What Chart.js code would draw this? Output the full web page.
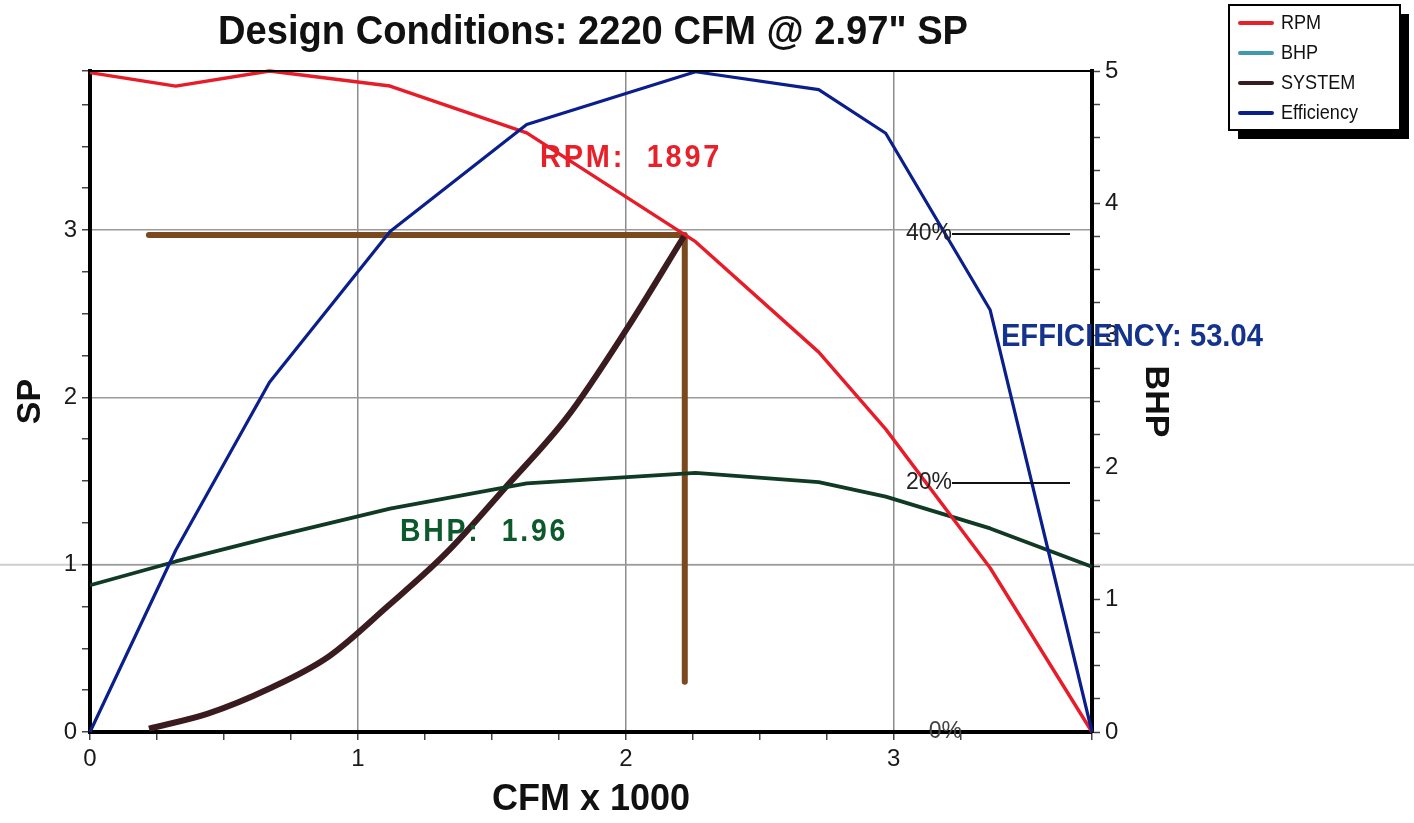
<!DOCTYPE html>
<html><head><meta charset="utf-8">
<script src="https://cdn.jsdelivr.net/npm/chart.js@4.4.1/dist/chart.umd.min.js"></script>
<style>html,body{margin:0;padding:0;background:#fff;}</style>
</head><body>
<canvas id="c" width="1414" height="823"></canvas>
<script>
// ---- text ----
const chartTitle = 'Design Conditions: 2220 CFM @ 2.97" SP';
const xTitle = 'CFM x 1000';
const spTitle = 'SP';
const bhpTitle = 'BHP';
// ---- fan curve data (CFM x 1000) ----
const fanCfm  = [0, 0.32, 0.67, 1.12, 1.63, 2.26, 2.72, 2.97, 3.36, 3.74];
const rpmSp   = [3.94, 3.86, 3.95, 3.86, 3.58, 2.93, 2.27, 1.81, 0.98, 0];
const bhpVals = [1.11, 1.29, 1.47, 1.69, 1.88, 1.96, 1.89, 1.78, 1.54, 1.25];
const effVals = [0, 14.6, 28.1, 40.2, 48.8, 53.04, 51.6, 48.1, 33.9, 0];
// ---- system curve ----
const sysCfm = [0.22, 0.44, 0.67, 0.89, 1.11, 1.33, 1.55, 1.78, 2.00, 2.22];
const sysSp  = [0.02, 0.11, 0.26, 0.45, 0.75, 1.07, 1.46, 1.88, 2.40, 2.97];
// ---- design point guide lines ----
const designCfm = [0.22, 2.22, 2.22];
const designSp  = [2.97, 2.97, 0.30];
// ---- ticks ----
const xTicks   = [0, 1, 2, 3];
const spTicks  = [0, 1, 2, 3];
const bhpTicks = [0, 1, 2, 3, 4, 5];
const effMarks = [0, 20, 40];
// ---- legend / labels ----
const legendNames  = ['RPM', 'BHP', 'SYSTEM', 'Efficiency'];
const legendColors = ['#e8202a', '#3f9aab', '#3a1c20', '#0b1f8c'];
const opRpm = '1897', opBhp = '1.96', opEff = '53.04';

const FONT = '"Liberation Sans", Arial, sans-serif';

function pts(xs, ys){ return xs.map((x,i)=>({x:x, y:ys[i]})); }

function fitText(ctx, text, x, y, width, align){
  const w = ctx.measureText(text).width;
  const s = width ? width / w : 1;
  ctx.save();
  ctx.translate(x, y);
  ctx.scale(s, 1);
  ctx.textAlign = 'left';
  ctx.fillText(text, align === 'center' ? -w/2 : (align === 'right' ? -w : 0), 0);
  ctx.restore();
}

const decor = {
  id: 'decor',
  beforeDraw(chart){
    const ctx = chart.ctx;
    ctx.save();
    ctx.fillStyle = '#fff';
    ctx.fillRect(0, 0, chart.width, chart.height);
    // faint scan line across full width at SP = 1
    const y1 = chart.scales.y.getPixelForValue(1);
    ctx.strokeStyle = '#cfcfcf'; ctx.lineWidth = 2;
    ctx.beginPath(); ctx.moveTo(0, y1); ctx.lineTo(chart.width, y1); ctx.stroke();
    ctx.restore();
  },
  afterDraw(chart){
    const ctx = chart.ctx, a = chart.chartArea;
    const xs = chart.scales.x, ys = chart.scales.y, ye = chart.scales.yE;
    ctx.save();
    // top border
    ctx.strokeStyle = '#000'; ctx.lineWidth = 2;
    ctx.beginPath(); ctx.moveTo(a.left, a.top); ctx.lineTo(a.right, a.top); ctx.stroke();
    // title
    ctx.fillStyle = '#111';
    ctx.font = 'bold 40px ' + FONT;
    ctx.textBaseline = 'alphabetic';
    fitText(ctx, chartTitle, 593, 44, 750, 'center');
    // efficiency percent marks
    ctx.font = '23px ' + FONT;
    ctx.textBaseline = 'middle';
    effMarks.forEach(v => {
      const y = ye.getPixelForValue(v);
      ctx.fillStyle = v === 0 ? '#444' : '#222';
      fitText(ctx, v + '%', a.right - (v === 0 ? 130 : 140), y, 0, 'right');
      if (v > 0){
        ctx.strokeStyle = '#111'; ctx.lineWidth = 2;
        ctx.beginPath(); ctx.moveTo(a.right - 140, y); ctx.lineTo(a.right - 22, y); ctx.stroke();
      }
    });
    // operating labels
    ctx.textBaseline = 'middle';
    ctx.font = 'bold 31px ' + FONT;
    ctx.letterSpacing = '3px';
    ctx.fillStyle = '#e8202a';
    fitText(ctx, 'RPM:  ' + opRpm, xs.getPixelForValue(1.68), ys.getPixelForValue(3.43), 182, 'left');
    ctx.fillStyle = '#0c5a2c';
    fitText(ctx, 'BHP:  ' + opBhp, xs.getPixelForValue(1.157), ys.getPixelForValue(1.19), 168, 'left');
    ctx.letterSpacing = '0px';
    ctx.font = 'bold 31px ' + FONT;
    ctx.fillStyle = '#13338c';
    fitText(ctx, 'EFFICIENCY: ' + opEff, xs.getPixelForValue(3.40), ys.getPixelForValue(2.36), 262, 'left');
    // legend
    const L = {x:1229, y:5, w:171, h:125};
    ctx.fillStyle = '#000';
    ctx.fillRect(L.x + 9, L.y + 9, L.w, L.h);
    ctx.fillStyle = '#fff';
    ctx.fillRect(L.x, L.y, L.w, L.h);
    ctx.strokeStyle = '#000'; ctx.lineWidth = 2;
    ctx.strokeRect(L.x, L.y, L.w, L.h);
    ctx.font = '21px ' + FONT;
    ctx.textBaseline = 'middle';
    legendNames.forEach((n, i) => {
      const y = L.y + 18 + i * 30;
      ctx.strokeStyle = legendColors[i]; ctx.lineWidth = 4; ctx.lineCap = 'round';
      ctx.beginPath(); ctx.moveTo(L.x + 11, y); ctx.lineTo(L.x + 43, y); ctx.stroke();
      ctx.fillStyle = '#111';
      const w = ctx.measureText(n).width;
      fitText(ctx, n, L.x + 52, y, w * 0.86, 'left');
    });
    ctx.restore();
  }
};

function intTick(list){ return (v) => list.includes(v) ? String(v) : ''; }

new Chart(document.getElementById('c'), {
  type: 'scatter',
  data: {
    datasets: [
      {label:'Efficiency', data: pts(fanCfm, effVals), yAxisID:'yE', borderColor:'#0b1f8c', borderWidth:3.2},
      {label:'RPM', data: pts(fanCfm, rpmSp), yAxisID:'y', borderColor:'#e81c28', borderWidth:3.4},
      {label:'BHP', data: pts(fanCfm, bhpVals), yAxisID:'yB', borderColor:'#103a24', borderWidth:3.8},
      {label:'SYSTEM', data: pts(sysCfm, sysSp), yAxisID:'y', borderColor:'#3a1c20', borderWidth:6, cubicInterpolationMode:'monotone'},
      {label:'Design', data: pts(designCfm, designSp), yAxisID:'y', borderColor:'#7a4a1e', borderWidth:6, borderCapStyle:'round'}
    ].map(d => Object.assign({showLine:true, pointRadius:0, pointHoverRadius:0, borderJoinStyle:'round', clip:8, fill:false}, d))
  },
  options: {
    responsive: false,
    animation: false,
    layout: {padding: {top:71, right:232, left:0, bottom:0}},
    plugins: {legend:{display:false}, tooltip:{enabled:false}, title:{display:false}},
    scales: {
      x: {
        type:'linear', position:'bottom', min:0, max:3.74,
        ticks:{stepSize:0.25, autoSkip:false, maxRotation:0, callback:intTick(xTicks), color:'#1a1a1a', font:{family:FONT, size:24}, padding:5},
        grid:{color:c => (c.tick && xTicks.includes(c.tick.value) && c.tick.value > 0) ? '#8c8c8c' : 'rgba(0,0,0,0)', lineWidth:1.5, tickColor:'#444', tickLength:8, tickWidth:1.5},
        border:{display:true, color:'#000', width:4},
        title:{display:true, text:xTitle, color:'#111', font:{family:FONT, size:36, weight:'bold'}, padding:{top:0, bottom:1}},
        afterFit: s => { s.height = 91; }
      },
      y: {
        type:'linear', position:'left', min:0, max:3.95,
        ticks:{stepSize:0.25, autoSkip:false, callback:intTick(spTicks), color:'#1a1a1a', font:{family:FONT, size:24}, padding:5},
        grid:{color:c => (c.tick && spTicks.includes(c.tick.value) && c.tick.value > 0) ? '#9a9a9a' : 'rgba(0,0,0,0)', lineWidth:1.5, tickColor:'#444', tickLength:8, tickWidth:1.5},
        border:{display:true, color:'#000', width:4},
        title:{display:true, text:spTitle, color:'#111', font:{family:FONT, size:34, weight:'bold'}, padding:{top:10, bottom:0}},
        afterFit: s => { s.width = 90; }
      },
      yB: {
        type:'linear', position:'right', min:0, max:5,
        ticks:{stepSize:0.25, autoSkip:false, callback:intTick(bhpTicks), color:'#1a1a1a', font:{family:FONT, size:24}, padding:5},
        grid:{drawOnChartArea:false, color:'rgba(0,0,0,0)', tickColor:'#444', tickLength:8, tickWidth:1.5},
        border:{display:true, color:'#000', width:4},
        title:{display:true, text:bhpTitle, color:'#111', font:{family:FONT, size:34, weight:'bold'}, padding:{top:6, bottom:0}},
        afterFit: s => { s.width = 90; }
      },
      yE: {type:'linear', display:false, min:0, max:53.1}
    }
  },
  plugins: [decor]
});
</script>
</body></html>
